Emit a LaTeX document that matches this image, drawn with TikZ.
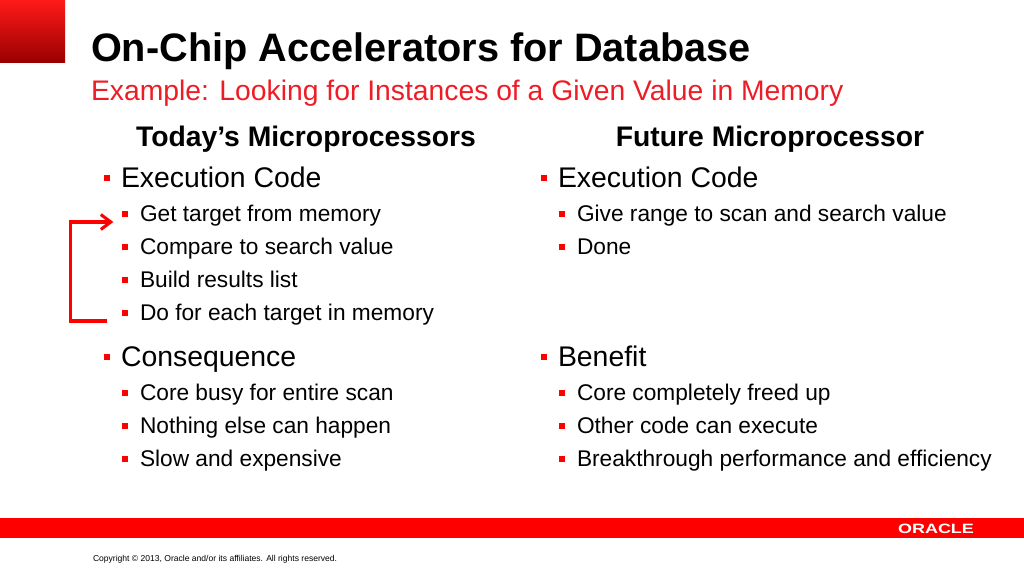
\documentclass[tikz,border=0pt]{standalone}
\usepackage{fontspec}
\setmainfont{Liberation Sans}
\usepackage{tikz}
\usetikzlibrary{positioning,arrows.meta}
\definecolor{oraclered}{HTML}{FF0000}
\definecolor{subred}{HTML}{EE1C25}

\begin{document}
\begin{tikzpicture}[
				x=1pt,
				y=-1pt,
				inner sep=0pt,
				outer sep=0pt,
				headline/.style={font=\fontsize{39.7}{42}\selectfont\bfseries,anchor=base west},
				subline/.style={font=\fontsize{28.3}{30}\selectfont,text=subred,anchor=base west},
				coltitle/.style={font=\fontsize{28.3}{30}\selectfont\bfseries,anchor=base},
				mainitem/.style={font=\fontsize{28.4}{30}\selectfont,text height=20pt,text depth=6pt},
				subitem/.style={font=\fontsize{22.7}{24}\selectfont,text height=18pt,text depth=4pt},
				mainmark/.style={fill=oraclered,minimum size=6.5pt},
				submark/.style={fill=oraclered,minimum size=5.6pt},
				loopline/.style={draw=oraclered,line width=3.1pt,-{Straight Barb[length=10pt,width=15pt,line width=3.1pt]}}
			]
			\useasboundingbox (0,0) rectangle (1024,576);
			
			\node [anchor=north west,minimum width=65pt,minimum height=62.5pt,top color=red!90!white,bottom color=red!60!black] (corner) at (0,0) {};
			\node [anchor=north west,minimum width=1024pt,minimum height=20pt,fill=oraclered] (band) at (0,518) {};
			\node [font=\fontsize{13.5}{14}\selectfont\bfseries,text=white,xscale=1.33,transform shape] (logo) at (936,528.5) {ORACLE};
			\node [font=\fontsize{8.55}{10}\selectfont,anchor=base west] (copyright) at (93,561) {Copyright © 2013, Oracle and/or its affiliates. All rights reserved.};
			
			\node [headline] (title) at (91,61) {On-Chip Accelerators for Database};
			\node [subline] (subtitle) at (91,100) {Example: Looking for Instances of a Given Value in Memory};
			\node [coltitle] (today) at (306,146.5) {Today’s Microprocessors};
			\node [coltitle] (future) at (770,146.5) {Future Microprocessor};
			
			% left column
			\node [mainitem,anchor=north west] (exec) at (121,167) {Execution Code};
			\node [subitem,anchor=north west] (get) at (140,203) {Get target from memory};
			\node [subitem,below=11pt of get.south west,anchor=north west] (compare) {Compare to search value};
			\node [subitem,below=11pt of compare.south west,anchor=north west] (build) {Build results list};
			\node [subitem,below=11pt of build.south west,anchor=north west] (each) {Do for each target in memory};
			\node [mainitem,anchor=north west] (conseq) at (121,346) {Consequence};
			\node [subitem,anchor=north west] (busy) at (140,382) {Core busy for entire scan};
			\node [subitem,below=11pt of busy.south west,anchor=north west] (nothing) {Nothing else can happen};
			\node [subitem,below=11pt of nothing.south west,anchor=north west] (slow) {Slow and expensive};
			
			% right column
			\node [mainitem,anchor=north west] (execb) at (558,167) {Execution Code};
			\node [subitem,anchor=north west] (range) at (577,203) {Give range to scan and search value};
			\node [subitem,below=11pt of range.south west,anchor=north west] (done) {Done};
			\node [mainitem,anchor=north west] (benefit) at (558,346) {Benefit};
			\node [subitem,anchor=north west] (freed) at (577,382) {Core completely freed up};
			\node [subitem,below=11pt of freed.south west,anchor=north west] (other) {Other code can execute};
			\node [subitem,below=11pt of other.south west,anchor=north west] (perf) {Breakthrough performance and efficiency};
			
			% bullets
			\foreach \item in {exec,conseq,execb,benefit}
				\node [mainmark,left=11pt of \item,yshift=2pt] (mark\item) {};
			\foreach \item in {get,compare,build,each,busy,nothing,slow,range,done,freed,other,perf}
				\node [submark,left=12pt of \item] (mark\item) {};
			
			\coordinate [left=9pt of markget,yshift=-8pt] (loopin);
			\coordinate [left=15pt of markeach,yshift=-8pt] (loopout);
			\draw [loopline] (loopout) -- ++(-37,0) |- (loopin);
		\end{tikzpicture}
\end{document}
